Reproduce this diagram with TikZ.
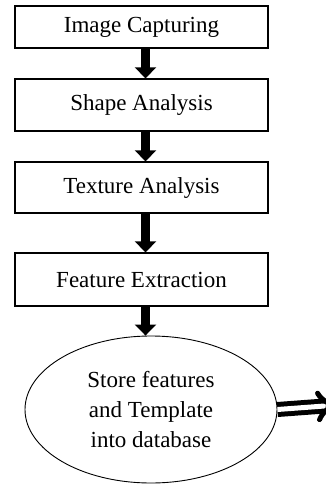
\documentclass[tikz,border=0pt]{standalone}
\usepackage{fontspec}
\setmainfont{Liberation Serif}
\usetikzlibrary{arrows.meta,positioning,shapes.geometric}
\tikzset{stage/.style={draw=black,line width=1.3pt,fill=white,align=center,font=\fontsize{23}{28}\selectfont,minimum width=253pt,minimum height=#1,inner sep=0pt},
stage/.default=42pt,
store/.style={ellipse,draw=black,line width=0.9pt,align=center,font=\fontsize{23}{30}\selectfont,minimum width=252pt,minimum height=147pt,inner sep=0pt},
down/.style={-{Triangle[length=11pt 0 0,width=21pt 0 0]},line width=9pt,draw=black},
outarr/.style={-{Implies},double=white,double distance=5pt,line width=5pt,draw=black}}
\begin{document}
\begin{tikzpicture}[x=1pt,y=-1pt]
\useasboundingbox (0,0) rectangle (326,485);
\node[stage=42pt] (cap) at (141.5,27){Image Capturing};\node[stage=52pt](shp)at(141.5,105){Shape Analysis};
\node[stage=51pt](tex)at(141.5,187.5){Texture Analysis};\node[stage=53pt](fea)at(141.5,279.5){Feature Extraction};
\node[store](db)at(151,409.5){Store features\\and Template\\into database};
\coordinate (out) at (338,405);
\draw[down]([xshift=4pt]cap.south)--([xshift=4pt]shp.north);\draw[down]([xshift=4pt]shp.south)--([xshift=4pt]tex.north);
\draw[down]([xshift=4pt]tex.south)--([xshift=4pt]fea.north);\draw[down]([xshift=4pt]fea.south)--([xshift=4pt]fea.south |- db.north);
\draw[outarr](db.east)--(out);
\end{tikzpicture}
\end{document}
